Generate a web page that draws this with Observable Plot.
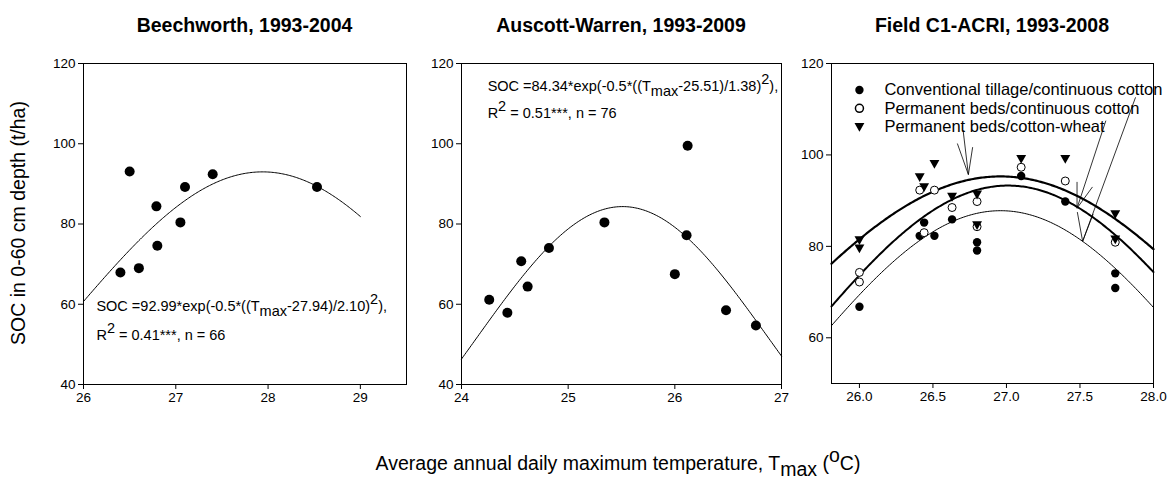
<!DOCTYPE html>
<html><head><meta charset="utf-8">
<script src="https://cdn.jsdelivr.net/npm/d3@7"></script>
<script src="https://cdn.jsdelivr.net/npm/@observablehq/plot@0.6"></script>
<style>
body{margin:0;background:#fff;font-family:"Liberation Sans",Arial,sans-serif;color:#000;}
#wrap{position:relative;width:1169px;height:482px;overflow:hidden;background:#fff;}
.panel{position:absolute;top:50px;}
.title{position:absolute;top:14px;font-weight:bold;font-size:19.5px;transform:translateX(-50%);white-space:nowrap;}
#ylab{position:absolute;left:18px;top:223px;transform:translate(-50%,-50%) rotate(-90deg);font-size:19.5px;white-space:nowrap;}
#xlab{position:absolute;left:618px;top:452px;transform:translateX(-50%);font-size:19.5px;white-space:nowrap;}
#xlab sub{font-size:100%;vertical-align:-6px;line-height:0;}
#xlab sup{font-size:100%;vertical-align:8px;line-height:0;}
</style></head>
<body><div id="wrap"></div>
<script>
// ---------- data ----------
const titles = ["Beechworth, 1993-2004", "Auscott-Warren, 1993-2009", "Field C1-ACRI, 1993-2008"];
const yLabel = "SOC in 0-60 cm depth (t/ha)";

// Panel 1: Beechworth
const p1X = [26.40, 26.50, 26.60, 26.79, 26.80, 27.05, 27.10, 27.40, 28.53];
const p1Y = [67.9, 93.1, 69.0, 84.4, 74.6, 80.4, 89.2, 92.4, 89.2];
const fit1 = {a: 92.99, c: 27.94, s: 2.10, from: 26, to: 29};
const eq1Text = ["SOC =92.99*exp(-0.5*((T_{max}-27.94)/2.10)^{2}),", "R^{2} = 0.41***, n = 66"];
const eq1X = [26.14, 26.14];
const eq1Y = [59.5, 52.3];

// Panel 2: Auscott-Warren
const p2X = [24.26, 24.43, 24.56, 24.62, 24.82, 25.34, 26.00, 26.12, 26.11, 26.48, 26.76];
const p2Y = [61.1, 57.9, 70.7, 64.4, 74.0, 80.4, 67.5, 99.5, 77.2, 58.5, 54.7];
const fit2 = {a: 84.34, c: 25.51, s: 1.38, from: 24, to: 27};
const eq2Text = ["SOC =84.34*exp(-0.5*((T_{max}-25.51)/1.38)^{2}),", "R^{2} = 0.51***, n = 76"];
const eq2X = [24.245, 24.245];
const eq2Y = [114.3, 107.6];

// Panel 3: Field C1-ACRI, three treatments
const series3 = ["Conventional tillage/continuous cotton", "Permanent beds/continuous cotton", "Permanent beds/cotton-wheat"];
const ctX = [26.0, 26.41, 26.44, 26.51, 26.63, 26.80, 26.80, 27.10, 27.40, 27.74, 27.74];
const ctY = [66.8, 82.3, 85.2, 82.3, 85.9, 79.1, 80.9, 95.4, 89.8, 74.1, 70.9];
const pbX = [26.0, 26.0, 26.41, 26.44, 26.51, 26.63, 26.80, 26.80, 27.10, 27.40, 27.74];
const pbY = [74.3, 72.2, 92.3, 83.0, 92.3, 88.5, 89.8, 84.3, 97.3, 94.3, 80.9];
const pwX = [26.0, 26.0, 26.41, 26.44, 26.51, 26.63, 26.80, 26.80, 27.10, 27.40, 27.74, 27.74];
const pwY = [81.4, 79.6, 95.2, 93.0, 98.1, 90.9, 91.4, 84.7, 99.2, 99.2, 87.1, 81.6];
// fitted curves (bottom, middle, top)
const fit3A = [87.8, 93.3, 95.3];
const fit3C = [26.96, 27.01, 26.96];
const fit3S = [1.40, 1.47, 1.72];
const fit3W = [1, 2, 2.2];
// legend rows
const legX = 26.0, legTextX = 26.17;
const legY = [114.2, 110.2, 106.2];
// annotation arrows (segments in data units)
const arrowX1 = [26.705, 26.666, 26.770, 27.676, 27.480, 27.585, 27.878, 27.482, 27.590];
const arrowY1 = [105.4, 102.5, 101.7, 107.5, 94.1, 93.0, 112.6, 87.5, 87.1];
const arrowX2 = [26.741, 26.741, 26.741, 27.480, 27.480, 27.480, 27.518, 27.518, 27.518];
const arrowY2 = [95.7, 95.7, 95.7, 88.35, 88.35, 88.35, 81.1, 81.1, 81.1];

// ---------- helpers ----------
const FONT = '"Liberation Sans", Arial, sans-serif';
const zip = (xs, ys) => xs.map((x, i) => ({x, y: ys[i]}));
const gauss = (a, c, s, x) => a * Math.exp(-0.5 * ((x - c) / s) ** 2);
const curve = (a, c, s, x0, x1) => d3.range(201).map(i => { const x = x0 + (x1 - x0) * i / 200; return {x, y: gauss(a, c, s, x)}; });
const triDown = {draw(ctx, size) { const r = Math.sqrt(size / Math.PI); ctx.moveTo(-r * 1.15, -r * 0.85); ctx.lineTo(r * 1.15, -r * 0.85); ctx.lineTo(0, r * 1.2); ctx.closePath(); }};

function rich(svg) {
  svg.querySelectorAll("text").forEach(t => {
    const s = t.textContent;
    if (!/[_^]\{/.test(s)) return;
    while (t.firstChild) t.removeChild(t.firstChild);
    let cur = 0, last = 0, m;
    const re = /([_^])\{([^}]*)\}/g;
    const add = (txt, off) => {
      if (!txt) return;
      const ts = document.createElementNS("http://www.w3.org/2000/svg", "tspan");
      ts.textContent = txt;
      const d = off - cur;
      if (d) ts.setAttribute("dy", d.toFixed(2) + "em");
      cur = off;
      t.appendChild(ts);
    };
    while ((m = re.exec(s))) { add(s.slice(last, m.index), 0); add(m[2], m[1] === "_" ? 0.35 : -0.45); last = re.lastIndex; }
    add(s.slice(last), 0);
  });
}

const baseStyle = {background: "transparent", overflow: "visible", fontSize: "13.5px", fontFamily: FONT, color: "#000"};
const wrap = document.getElementById("wrap");
function place(svg, left) {
  const d = document.createElement("div");
  d.className = "panel"; d.style.left = left + "px";
  d.appendChild(svg); wrap.appendChild(d); rich(svg);
}
const intFmt = d3.format("d");

// ---------- panel 1 ----------
place(Plot.plot({
  width: 380, height: 360, marginLeft: 43, marginRight: 14, marginTop: 13, marginBottom: 26,
  style: baseStyle,
  x: {domain: [26, 29.5], ticks: [26, 27, 28, 29], tickFormat: intFmt, tickSize: 5, tickPadding: 3, label: null},
  y: {domain: [40, 120], ticks: [40, 60, 80, 100, 120], tickFormat: intFmt, tickSize: 5, tickPadding: 3, label: null},
  marks: [
    Plot.frame({stroke: "#000"}),
    Plot.line(curve(fit1.a, fit1.c, fit1.s, fit1.from, fit1.to), {x: "x", y: "y", stroke: "#000", strokeWidth: 1}),
    Plot.dot(zip(p1X, p1Y), {x: "x", y: "y", r: 5, fill: "#000"}),
    Plot.text(eq1Text.map((t, i) => ({t, x: eq1X[i], y: eq1Y[i]})), {x: "x", y: "y", text: "t", textAnchor: "start", lineAnchor: "middle", fontSize: 14.5, fill: "#000"})
  ]
}), 40);

// ---------- panel 2 ----------
place(Plot.plot({
  width: 370, height: 360, marginLeft: 41, marginRight: 9, marginTop: 13, marginBottom: 26,
  style: baseStyle,
  x: {domain: [24, 27], ticks: [24, 25, 26, 27], tickFormat: intFmt, tickSize: 5, tickPadding: 3, label: null},
  y: {domain: [40, 120], ticks: [40, 60, 80, 100, 120], tickFormat: intFmt, tickSize: 5, tickPadding: 3, label: null},
  marks: [
    Plot.frame({stroke: "#000"}),
    Plot.line(curve(fit2.a, fit2.c, fit2.s, fit2.from, fit2.to), {x: "x", y: "y", stroke: "#000", strokeWidth: 1}),
    Plot.dot(zip(p2X, p2Y), {x: "x", y: "y", r: 5, fill: "#000"}),
    Plot.text(eq2Text.map((t, i) => ({t, x: eq2X[i], y: eq2Y[i]})), {x: "x", y: "y", text: "t", textAnchor: "start", lineAnchor: "middle", fontSize: 14.5, fill: "#000"})
  ]
}), 420);

// ---------- panel 3 ----------
const x3 = [25.81, 28.0];
const arrows = arrowX1.map((x1, i) => ({x1, y1: arrowY1[i], x2: arrowX2[i], y2: arrowY2[i]}));
place(Plot.plot({
  width: 379, height: 360, marginLeft: 41, marginRight: 16, marginTop: 13, marginBottom: 27,
  style: baseStyle,
  x: {domain: x3, ticks: [26, 26.5, 27, 27.5, 28], tickFormat: d3.format(".1f"), tickSize: 5, tickPadding: 3, label: null},
  y: {domain: [50, 120], ticks: [60, 80, 100, 120], tickFormat: intFmt, tickSize: 5, tickPadding: 3, label: null},
  marks: [
    Plot.frame({stroke: "#000"}),
    ...fit3A.map((a, i) => Plot.line(curve(a, fit3C[i], fit3S[i], x3[0], x3[1]), {x: "x", y: "y", stroke: "#000", strokeWidth: fit3W[i]})),
    Plot.link(arrows, {x1: "x1", y1: "y1", x2: "x2", y2: "y2", stroke: "#000", strokeWidth: 0.8}),
    Plot.dot(zip(ctX, ctY), {x: "x", y: "y", r: 4.2, fill: "#000"}),
    Plot.dot(zip(pbX, pbY), {x: "x", y: "y", r: 4, fill: "#fff", stroke: "#000", strokeWidth: 1}),
    Plot.dot(zip(pwX, pwY), {x: "x", y: "y", r: 4.3, fill: "#000", symbol: triDown}),
    // legend
    Plot.dot([{x: legX, y: legY[0]}], {x: "x", y: "y", r: 4.2, fill: "#000"}),
    Plot.dot([{x: legX, y: legY[1]}], {x: "x", y: "y", r: 4, fill: "#fff", stroke: "#000"}),
    Plot.dot([{x: legX, y: legY[2]}], {x: "x", y: "y", r: 4.3, fill: "#000", symbol: triDown}),
    Plot.text(series3.map((t, i) => ({t, x: legTextX, y: legY[i]})), {x: "x", y: "y", text: "t", textAnchor: "start", lineAnchor: "middle", fontSize: 16.5, fill: "#000"})
  ]
}), 790);

// ---------- titles & shared labels ----------
const centers = [244.5, 621, 992];
titles.forEach((t, i) => {
  const d = document.createElement("div");
  d.className = "title"; d.style.left = centers[i] + "px"; d.textContent = t;
  wrap.appendChild(d);
});
const yl = document.createElement("div"); yl.id = "ylab"; yl.textContent = yLabel; wrap.appendChild(yl);
const xl = document.createElement("div"); xl.id = "xlab";
xl.innerHTML = "Average annual daily maximum temperature, T<sub>max</sub> (<sup>o</sup>C)";
wrap.appendChild(xl);
</script></body></html>
